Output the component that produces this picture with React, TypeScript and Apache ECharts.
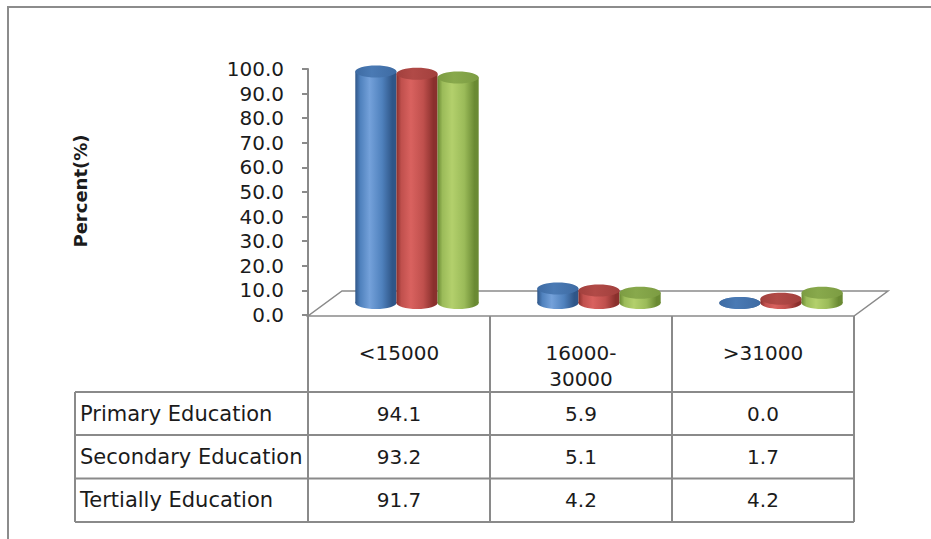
import React, { useEffect, useRef } from "react";
import * as echarts from "echarts";

// Monthly income groups (x categories) and education levels (series)
const incomeGroups = ["<15000", "16000-30000", ">31000"];
const educationLevels = ["Primary Education", "Secondary Education", "Tertially Education"];
const primaryEducation = [94.1, 5.9, 0.0];
const secondaryEducation = [93.2, 5.1, 1.7];
const tertiallyEducation = [91.7, 4.2, 4.2];
const seriesValues = [primaryEducation, secondaryEducation, tertiallyEducation];

const Y_MIN = 0;
const Y_MAX = 100;
const Y_STEP = 10;

const FONT = "DejaVu Sans";
const TEXT_COLOR = "#1b1b1b";
const LINE_COLOR = "#8a8a8a";

// cylinder shading per series
const palettes = [
  { light: "#74a1da", base: "#4f81bd", dark: "#2f5688", top: "#3e6ba3", topLight: "#4a7ab4" },
  { light: "#d9625f", base: "#c0504d", dark: "#8a302d", top: "#a2403d", topLight: "#b14a47" },
  { light: "#b3d06c", base: "#9bbb59", dark: "#6a8a33", top: "#7c9c42", topLight: "#88a94c" },
];

// layout of the plot area / data table
const GRID_LEFT = 308;
const GRID_RIGHT_X = 854;
const GRID_TOP = 69;
const GRID_BOTTOM_Y = 315;
const DEPTH_DX = 18;
const DEPTH_DY = 12;
const FLOOR_DX = 34;
const FLOOR_DY = 25;
const TABLE_LEFT = 75;
const TABLE_HEADER_TOP = 316;
const ROW_LINES = [392, 435, 478.5, 522];

export default function App() {
  const ref = useRef<HTMLDivElement>(null);

  useEffect(() => {
    if (!ref.current) return;
    const chart = echarts.init(ref.current, undefined, { renderer: "svg" });

    const colW = (GRID_RIGHT_X - GRID_LEFT) / incomeGroups.length;
    const colX = incomeGroups.map((_, i) => GRID_LEFT + i * colW);
    colX.push(GRID_RIGHT_X);

    const lineStyle = { stroke: LINE_COLOR, lineWidth: 2 };
    const graphics: any[] = [];

    // outer chart frame
    graphics.push({
      type: "rect",
      shape: { x: 8, y: 7, width: 1000, height: 600 },
      style: { fill: "none", stroke: "#8c8c8c", lineWidth: 2 },
      z: 0,
    });

    // floor of the 3-D plot
    graphics.push({
      type: "polygon",
      shape: {
        points: [
          [GRID_LEFT, TABLE_HEADER_TOP],
          [GRID_RIGHT_X, TABLE_HEADER_TOP],
          [GRID_RIGHT_X + FLOOR_DX, TABLE_HEADER_TOP - FLOOR_DY],
          [GRID_LEFT + FLOOR_DX, TABLE_HEADER_TOP - FLOOR_DY],
        ],
      },
      style: { fill: "#ffffff", stroke: LINE_COLOR, lineWidth: 1.5 },
      z: 0,
    });

    // data table grid
    ROW_LINES.forEach((y) => {
      graphics.push({
        type: "line",
        shape: { x1: TABLE_LEFT, y1: y, x2: GRID_RIGHT_X, y2: y },
        style: lineStyle,
        z: 1,
      });
    });
    graphics.push({
      type: "line",
      shape: { x1: TABLE_LEFT, y1: ROW_LINES[0], x2: TABLE_LEFT, y2: ROW_LINES[ROW_LINES.length - 1] },
      style: lineStyle,
      z: 1,
    });
    colX.forEach((x) => {
      graphics.push({
        type: "line",
        shape: { x1: x, y1: TABLE_HEADER_TOP, x2: x, y2: ROW_LINES[ROW_LINES.length - 1] },
        style: lineStyle,
        z: 1,
      });
    });

    // row labels and values
    educationLevels.forEach((name, r) => {
      const cy = (ROW_LINES[r] + ROW_LINES[r + 1]) / 2;
      graphics.push({
        type: "text",
        x: TABLE_LEFT + 5,
        y: cy,
        style: {
          text: name,
          font: `21px "${FONT}"`,
          fill: TEXT_COLOR,
          align: "left",
          verticalAlign: "middle",
        },
        z: 2,
      });
      seriesValues[r].forEach((v, c) => {
        graphics.push({
          type: "text",
          x: (colX[c] + colX[c + 1]) / 2,
          y: cy,
          style: {
            text: v.toFixed(1),
            font: `20px "${FONT}"`,
            fill: TEXT_COLOR,
            align: "center",
            verticalAlign: "middle",
          },
          z: 2,
        });
      });
    });

    // y-axis title
    graphics.push({
      type: "text",
      x: 80,
      y: 191,
      rotation: Math.PI / 2,
      style: {
        text: "Percent(%)",
        font: `bold 18px "${FONT}"`,
        fill: TEXT_COLOR,
        align: "center",
        verticalAlign: "middle",
      },
      z: 2,
    });

    const makeSeries = (s: number) => ({
      type: "custom",
      name: educationLevels[s],
      clip: false,
      z: 5,
      data: seriesValues[s].map((v, i) => [i, v]),
      renderItem: (_params: any, api: any) => {
        const idx = api.value(0);
        const val = api.value(1);
        const [cx, yTop] = api.coord([idx, val]);
        const [, yBase] = api.coord([idx, 0]);
        const band = api.size([1, 0])[0];
        const bw = band * 0.226;
        const rx = bw / 2;
        const ry = 6;
        const left = cx + DEPTH_DX + (s - 1) * bw - rx;
        const top = yTop - DEPTH_DY;
        const bottom = yBase - DEPTH_DY;
        const p = palettes[s];
        const body = new echarts.graphic.LinearGradient(0, 0, 1, 0, [
          { offset: 0, color: p.dark },
          { offset: 0.12, color: p.base },
          { offset: 0.35, color: p.light },
          { offset: 0.65, color: p.base },
          { offset: 0.9, color: p.dark },
          { offset: 1, color: p.dark },
        ]);
        const cap = new echarts.graphic.LinearGradient(0, 0, 1, 0, [
          { offset: 0, color: p.top },
          { offset: 0.4, color: p.topLight },
          { offset: 1, color: p.top },
        ]);
        return {
          type: "group",
          children: [
            { type: "ellipse", shape: { cx: left + rx, cy: bottom, rx, ry }, style: { fill: body } },
            {
              type: "rect",
              shape: { x: left, y: top, width: bw, height: Math.max(0, bottom - top) },
              style: { fill: body },
            },
            { type: "ellipse", shape: { cx: left + rx, cy: top, rx, ry }, style: { fill: cap } },
          ],
        };
      },
    });

    chart.setOption({
      animation: false,
      grid: {
        left: GRID_LEFT,
        right: 931 - GRID_RIGHT_X,
        top: GRID_TOP,
        bottom: 539 - GRID_BOTTOM_Y,
        containLabel: false,
      },
      xAxis: {
        type: "category",
        data: incomeGroups,
        axisLine: { show: false },
        axisTick: { show: false },
        splitLine: { show: false },
        axisLabel: {
          margin: 25,
          fontFamily: FONT,
          fontSize: 20,
          lineHeight: 26,
          color: TEXT_COLOR,
          formatter: (v: string) => v.replace(/^(\d+-)(\d+)$/, "$1\n$2"),
        },
      },
      yAxis: {
        type: "value",
        min: Y_MIN,
        max: Y_MAX,
        interval: Y_STEP,
        axisLine: { show: true, lineStyle: { color: LINE_COLOR, width: 2 } },
        axisTick: { show: true, length: 6, lineStyle: { color: LINE_COLOR, width: 2 } },
        splitLine: { show: false },
        axisLabel: {
          margin: 24,
          fontFamily: FONT,
          fontSize: 20,
          color: TEXT_COLOR,
          formatter: (v: number) => v.toFixed(1),
        },
      },
      graphic: { elements: graphics },
      series: [0, 1, 2].map(makeSeries),
    });

    return () => chart.dispose();
  }, []);

  return (
    <div
      ref={ref}
      style={{ position: "absolute", left: 0, top: 0, width: 931, height: 539, background: "#ffffff" }}
    />
  );
}
